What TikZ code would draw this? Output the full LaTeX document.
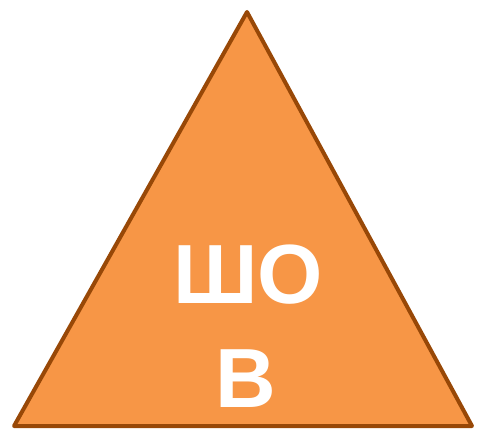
\documentclass[tikz,border=0pt]{standalone}
\usepackage{fontspec}
\setmainfont{Liberation Sans}
\usepackage{xcolor}
\definecolor{triFill}{HTML}{F79646}
\definecolor{triEdge}{HTML}{984807}
\begin{document}
\begin{tikzpicture}[x=1pt,y=-1pt,
  tritext/.style={text=white,font=\fontsize{84}{104}\selectfont\bfseries,inner sep=0pt,anchor=base}]
  \useasboundingbox (0,0) rectangle (477,433);
  \coordinate (apex) at (247,12);
  \coordinate (left) at (14,426);
  \coordinate (right) at (472,426);
  \filldraw[fill=triFill,draw=triEdge,line width=4pt,line join=round]
    (apex)--(right)--(left)--cycle;
  \node[tritext] (sho) at (248,303) {ШО};
  \node[tritext] (ve) at (246,407) {В};
\end{tikzpicture}
\end{document}
